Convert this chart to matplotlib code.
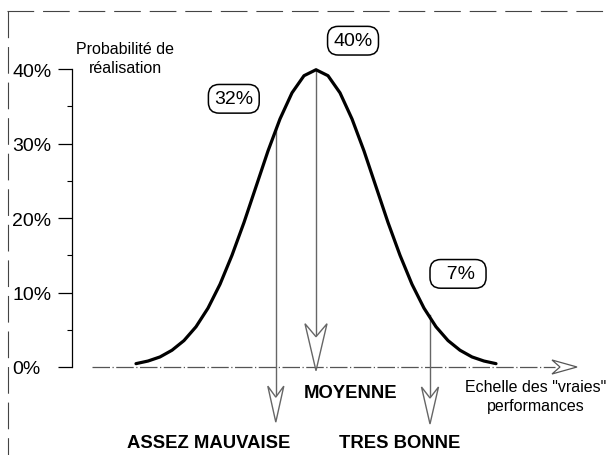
import numpy as np
import matplotlib.pyplot as plt
import matplotlib.transforms as mtransforms
from matplotlib.patches import Polygon
from matplotlib.lines import Line2D

plt.rcParams['font.family'] = ['Liberation Sans', 'DejaVu Sans']

# points (x in "sigma" units, y in %)
scale_x = [-3.0, -2.8, -2.6, -2.4, -2.2, -2.0, -1.8, -1.6, -1.4, -1.2, -1.0,
           -0.8, -0.6, -0.4, -0.2, 0.0, 0.2, 0.4, 0.6, 0.8, 1.0,
           1.2, 1.4, 1.6, 1.8, 2.0, 2.2, 2.4, 2.6, 2.8, 3.0]
proba = [0.45, 0.8, 1.35, 2.25, 3.55, 5.4, 7.9, 11.1, 15.0, 19.4, 24.2,
         29.0, 33.3, 36.8, 39.1, 39.9, 39.1, 36.8, 33.3, 29.0, 24.2,
         19.4, 15.0, 11.1, 7.9, 5.4, 3.55, 2.25, 1.35, 0.8, 0.45]

# the three marked performances
mark_x = [-0.67, 0.0, 1.9]
mark_val = [32, 40, 7]
mark_names = ['ASSEZ MAUVAISE', 'MOYENNE', 'TRES BONNE']

yticks = [0, 10, 20, 30, 40]
ytick_labels = ['0%', '10%', '20%', '30%', '40%']

fig = plt.figure(figsize=(6.06, 4.56), dpi=100)
ax = fig.add_axes([0, 0, 1, 1])
ax.set_xlim(-316 / 60, 290 / 60)
ax.set_ylim((368 - 456) / 7.45, 368 / 7.45)
ax.patch.set_visible(False)


def dart(x, y, verts_px, **kw):
	# arrow head drawn in pixels around a data point
	tr = fig.dpi_scale_trans + mtransforms.ScaledTranslation(x, y, ax.transData)
	verts = np.array(verts_px) / 100.0
	p = Polygon(verts, closed=True, transform=tr, **kw)
	ax.add_patch(p)


# y axis
for s in ['top', 'right', 'bottom']:
	ax.spines[s].set_visible(False)
ax.spines['left'].set_position(('data', (72 - 316) / 60))
ax.spines['left'].set_bounds(0, 40)
ax.spines['left'].set_linewidth(0.9)
ax.set_xticks([])
ax.set_yticks(yticks)
ax.set_yticklabels(ytick_labels, fontsize=14)
ax.set_yticks([5, 15, 25, 35], minor=True)
ax.tick_params(axis='y', which='major', length=10, width=0.9, pad=33)
ax.tick_params(axis='y', which='minor', length=3.6, width=0.8)
for lbl in ax.get_yticklabels():
	lbl.set_horizontalalignment('left')

# x axis
ax.plot([(92 - 316) / 60, (555 - 316) / 60], [0, 0], color='#555555', lw=0.9,
	dashes=(14, 2, 1, 2))
dart((577 - 316) / 60, 0, [(0, 0), (-25, 7), (-17, 0), (-25, -7)],
	facecolor='white', edgecolor='#555555', lw=0.9, zorder=3)

# curve
ax.plot(scale_x, proba, color='black', lw=2.3, solid_capstyle='round',
	solid_joinstyle='round', zorder=4)

# arrows down from the curve
arrow_tip = [-7.4, -0.5, -7.65]
heads = [(36, 8, 25), (47, 11, 34), (37, 8.5, 26)]
for x, v, ty, (h, w, n) in zip(mark_x, mark_val, arrow_tip, heads):
	ax.plot([x, x], [v, ty + n / 7.45], color='#666666', lw=1.0, zorder=2)
	dart(x, ty, [(0, 0), (-w, h), (0, n), (w, h)],
		facecolor='white', edgecolor='#666666', lw=1.0, zorder=3)

# rounded boxes
box = dict(boxstyle='round,pad=0.3,rounding_size=0.55', fc='white', ec='black', lw=1.1)
box_pos = [(-1.37, 36.0), (0.617, 43.8), (2.367, 12.5)]
box_txt = ['32%', '40%', '  7% ']
for (bx, by), t in zip(box_pos, box_txt):
	ax.text(bx, by, t, fontsize=14, ha='center', va='center', bbox=box)

# bold labels
name_pos = [(-1.783, -10.07), (0.583, -3.36), (1.4, -10.07)]
for (nx, ny), t in zip(name_pos, mark_names):
	ax.text(nx, ny, t, fontsize=13.3, fontweight='bold', ha='center', va='center')

ax.text((125 - 316) / 60, (368 - 59) / 7.45, 'Probabilité de\nréalisation',
	fontsize=11.5, ha='center', va='center', linespacing=1.3)
ax.text((536 - 316) / 60, (368 - 397) / 7.45, 'Echelle des "vraies"\nperformances',
	fontsize=11.5, ha='center', va='center', linespacing=1.3)

# scanned frame edges
fig.add_artist(Line2D([7 / 606, 1], [1 - 12 / 456] * 2, transform=fig.transFigure,
	color='#444444', lw=0.8, dashes=(24, 8)))
fig.add_artist(Line2D([8 / 606] * 2, [1 - 12 / 456, 0], transform=fig.transFigure,
	color='#444444', lw=0.8, dashes=(24, 8)))

fig.savefig('out.png', dpi=100)
